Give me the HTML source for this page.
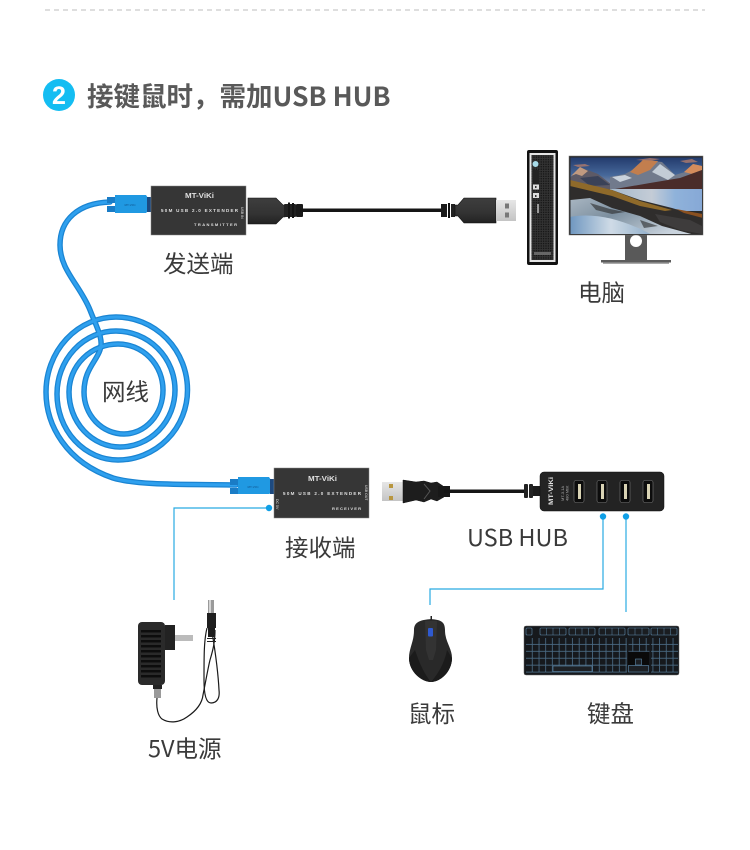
<!DOCTYPE html>
<html lang="zh"><head><meta charset="utf-8"><title>接键鼠时，需加USB HUB</title>
<style>html,body{margin:0;padding:0;background:#fff;width:750px;height:850px;overflow:hidden}svg{display:block}
.l{font-family:"Noto Sans CJK SC","Liberation Sans",sans-serif;font-size:23.500px;fill:#3a3a3a;font-weight:400}
.t{font-family:"Liberation Sans",sans-serif;fill:#e0e0e0;font-weight:700}</style></head><body>
<svg xmlns="http://www.w3.org/2000/svg" width="750" height="850" viewBox="0 0 750 850">
<defs>
<linearGradient id="sky" x1="0" y1="0" x2="0" y2="1"><stop offset="0" stop-color="#223a6c"/><stop offset=".55" stop-color="#46689a"/><stop offset="1" stop-color="#a7a2a6"/></linearGradient>
<linearGradient id="lake" x1="0" y1="0" x2="1" y2="0"><stop offset="0" stop-color="#a4b8cb"/><stop offset=".45" stop-color="#c4ccd6"/><stop offset=".7" stop-color="#8fb2da"/><stop offset="1" stop-color="#86a8d6"/></linearGradient>
<linearGradient id="rock" x1="0" y1="0" x2="1" y2=".6"><stop offset="0" stop-color="#a9b6c2"/><stop offset=".45" stop-color="#7c8f9f"/><stop offset="1" stop-color="#c9d3dd"/></linearGradient>
<linearGradient id="water" x1="0" y1="0" x2="1" y2="0"><stop offset="0" stop-color="#6f97c0"/><stop offset=".5" stop-color="#cfdbe6"/><stop offset="1" stop-color="#8fadc9"/></linearGradient>
<linearGradient id="plug" x1="0" y1="0" x2="0" y2="1"><stop offset="0" stop-color="#3e3e3e"/><stop offset=".6" stop-color="#333"/><stop offset="1" stop-color="#222"/></linearGradient>
<linearGradient id="metal" x1="0" y1="0" x2="0" y2="1"><stop offset="0" stop-color="#e6e6e6"/><stop offset="1" stop-color="#c4c4c4"/></linearGradient>
<linearGradient id="bodyg" x1="0" y1="0" x2="1" y2="0"><stop offset="0" stop-color="#333"/><stop offset="1" stop-color="#222"/></linearGradient>
<pattern id="key" width="6.700" height="6.900" patternUnits="userSpaceOnUse" x="526" y="638"><rect width="6.700" height="6.900" fill="#16191d"/><path d="M6.300 0V6.500H0" fill="none" stroke="#5f8bad" stroke-width=".6"/></pattern>
<pattern id="mesh" width="2.400" height="2.400" patternUnits="userSpaceOnUse"><rect width="2.400" height="2.400" fill="#333"/><circle cx="1.200" cy="1.200" r=".7" fill="#111"/></pattern>
<clipPath id="scr"><rect x="570.500" y="157.500" width="131.500" height="76.500"/></clipPath>
</defs>

<line x1="45" y1="10" x2="705" y2="10" stroke="#bdbdbd" stroke-width="1" stroke-dasharray="5 4"/>

<circle cx="59" cy="95" r="16" fill="#14bdf2"/>
<text x="59" y="104" text-anchor="middle" style="font-family:'Liberation Sans',sans-serif;font-size:25px;font-weight:700" fill="#fff">2</text>
<text x="87" y="106" style="font-family:'Noto Sans CJK SC','Liberation Sans',sans-serif;font-size:26.500px;font-weight:700" fill="#595959">接键鼠时，需加USB HUB</text>

<!-- cable -->
<g fill="none" stroke-linecap="round" stroke-linejoin="round">
<path d="M110 202C78 203 60 220 60 245C60 270 80 285 90 310C97 328 104 340 100 350C96 362 84 370 84 392A40 42 0 0 0 124 434A39 44 0 0 0 163 390A45 46 0 0 0 118 344A49 48 0 0 0 69 392A51 55 0 0 0 120 447A55 57 0 0 0 175 390A59 59 0 0 0 116 331A59 63 0 0 0 57 394A61 66 0 0 0 118 460A69.500 70 0 0 0 187.500 390A71.500 73 0 0 0 116 317A70 75 0 0 0 46 392C46 425 66 462 113 478C140 486 190 484 236 485" stroke="#1a84d2" stroke-width="5.500"/>
<path d="M110 202C78 203 60 220 60 245C60 270 80 285 90 310C97 328 104 340 100 350C96 362 84 370 84 392A40 42 0 0 0 124 434A39 44 0 0 0 163 390A45 46 0 0 0 118 344A49 48 0 0 0 69 392A51 55 0 0 0 120 447A55 57 0 0 0 175 390A59 59 0 0 0 116 331A59 63 0 0 0 57 394A61 66 0 0 0 118 460A69.500 70 0 0 0 187.500 390A71.500 73 0 0 0 116 317A70 75 0 0 0 46 392C46 425 66 462 113 478C140 486 190 484 236 485" stroke="#2fa0ee" stroke-width="3"/>
</g>

<!-- transmitter blue plug -->
<rect x="107" y="197" width="9" height="6" fill="#1a7cc6"/><rect x="107" y="206" width="9" height="6" fill="#1a7cc6"/>
<path d="M115 195H146L148 198V211L146 213H115Z" fill="#2099e2"/>
<rect x="147" y="197" width="4" height="15" fill="#1d4a80"/>
<text x="130" y="206" text-anchor="middle" class="t" style="font-size:3px;fill:#156aa8">MT-ViKi</text>
<!-- transmitter -->
<rect x="151" y="186" width="95" height="49" fill="#363636" stroke="#888" stroke-width=".5"/>
<text x="185" y="198" class="t" style="font-size:7px" textLength="29" lengthAdjust="spacingAndGlyphs">MT-ViKi</text>
<text x="161" y="212" class="t" style="font-size:4.500px" textLength="77" lengthAdjust="spacing">50M USB 2.0 EXTENDER</text>
<text x="194" y="226" class="t" style="font-size:4px" textLength="43" lengthAdjust="spacing">TRANSMITTER</text>
<text transform="translate(241 207) rotate(90)" class="t" style="font-size:3.500px;font-weight:400">USB IN</text>
<!-- left usb plug -->
<path d="M248 198H276L283 205H285V217H283L276 224H248Z" fill="url(#plug)" stroke="#111" stroke-width=".6"/>
<rect x="284" y="204" width="12" height="13" rx="1" fill="#222"/>
<rect x="288" y="202.500" width="2" height="16" fill="#151515"/><rect x="292" y="203" width="2" height="15" fill="#151515"/><rect x="296" y="204" width="7" height="13" fill="#1a1a1a" rx="1"/>
<rect x="300" y="208.500" width="142" height="3.500" fill="#151515"/>
<rect x="441" y="204" width="6" height="13" fill="#1a1a1a"/><rect x="448" y="203" width="2" height="15" fill="#111"/><rect x="451" y="204" width="4" height="13" fill="#222"/>
<path d="M455 205H458L464 198H496V223H464L458 216H455Z" fill="url(#plug)" stroke="#111" stroke-width=".6"/>
<rect x="496" y="200" width="20" height="21" fill="url(#metal)"/>
<rect x="505" y="203.500" width="4" height="5" fill="#777"/><rect x="505" y="212.500" width="4" height="5" fill="#777"/>

<!-- PC -->
<rect x="527" y="150" width="31" height="115" rx="2" fill="#111"/>
<rect x="529.500" y="153" width="26" height="109" fill="#e4e4e4"/>
<rect x="531.500" y="155" width="22" height="105" fill="url(#mesh)"/>
<circle cx="535.500" cy="164" r="3" fill="#a8dbe8"/>
<rect x="533" y="170" width="6" height="14" fill="#222"/>
<rect x="533" y="184.500" width="6" height="5" fill="#ddd"/><rect x="533" y="193" width="6" height="5" fill="#ddd"/>
<rect x="535" y="186" width="1.500" height="2" fill="#333"/><rect x="535" y="195" width="1.500" height="2" fill="#333"/>
<rect x="537" y="204" width="2" height="9" fill="#999"/>
<rect x="534" y="252" width="17" height="3" fill="#666"/>

<!-- monitor -->
<rect x="625" y="235" width="22" height="26" fill="#595959"/>
<circle cx="636" cy="241" r="6" fill="#fff"/>
<rect x="601" y="260" width="70" height="2.500" fill="#5c5c5c"/><rect x="603" y="262.500" width="66" height="1.500" fill="#aaa"/>
<rect x="569" y="156" width="134" height="79" fill="#2a2a2a" stroke="#777" stroke-width=".5"/>
<g clip-path="url(#scr)">
<rect x="570" y="157" width="133" height="33" fill="url(#sky)"/>
<path d="M636 160L650 158L660 159L650 161Z M573 165L585 164L590 166L578 167Z M680 161L692 159L698 162L686 163Z" fill="#b07a6c" opacity=".8"/>
<path d="M570 178L580 167L598 174L612 185L613 190H570Z" fill="#5d5a66"/>
<path d="M571 176L580 167L588 171L582 176L576 174Z" fill="#c09a80"/>
<path d="M580 178L598 176L610 185L590 186Z" fill="#3a4258"/>
<path d="M610 177L625 174L636 168L643 160L662 162L675 175L685 172L693 164L702 166V190H610Z" fill="#717a8c"/>
<path d="M630 172L643 160L658 161L650 170L638 175Z" fill="#c27e4e"/>
<path d="M684 172L693 164L702 166V170L692 174Z" fill="#d58c5c"/>
<path d="M652 172L660 164L675 175L668 180Z" fill="#c3ccd6"/>
<path d="M612 177L625 175L632 178L620 182Z" fill="#c9d2dc"/>
<path d="M615 189L650 183L680 178L702 170V190Z" fill="#4a2c2a"/>
<rect x="610" y="189" width="93" height="22" fill="url(#lake)"/>
<path d="M570 182L612 190L640 200L672 208L702 217V235H570Z" fill="#2f2d2c"/>
<path d="M570 180L612 190L640 201L672 210L665 211L640 206L612 196L570 186Z" fill="#8f6a2a"/>
<path d="M676 209L703 214V218L684 213Z" fill="#8a5020"/>
<path d="M570 200L590 198L612 208L640 216L662 226L695 235H570Z" fill="url(#rock)"/>
<path d="M570 217C595 212 625 220 652 235H570Z" fill="url(#water)"/>
<path d="M590 203L610 209L625 212L612 214L596 210Z M640 220L658 226L644 228Z" fill="#2a2a2a" opacity=".6"/>
<path d="M655 214L690 220L702 226V234L680 230L660 222Z" fill="#3e3c3c"/>
</g>

<!-- receiver blue plug -->
<rect x="230" y="479" width="9" height="6" fill="#1a7cc6"/><rect x="230" y="488" width="9" height="6" fill="#1a7cc6"/>
<path d="M238 477H269L271 480V493L269 494H238Z" fill="#2099e2"/>
<rect x="270" y="479" width="4" height="15" fill="#1d4a80"/>
<text x="253" y="488" text-anchor="middle" class="t" style="font-size:3px;fill:#156aa8">MT-ViKi</text>
<!-- receiver -->
<rect x="274" y="468" width="95" height="50" fill="#363636" stroke="#888" stroke-width=".5"/>
<text x="308" y="481" class="t" style="font-size:7px" textLength="29" lengthAdjust="spacingAndGlyphs">MT-ViKi</text>
<text x="283" y="495" class="t" style="font-size:4.500px" textLength="78" lengthAdjust="spacing">50M USB 2.0 EXTENDER</text>
<text x="332" y="510" class="t" style="font-size:4px" textLength="29" lengthAdjust="spacing">RECEIVER</text>
<text transform="translate(365 485) rotate(90)" class="t" style="font-size:3.500px;font-weight:400">USB OUT</text>
<text transform="translate(276 499) rotate(90)" class="t" style="font-size:3.500px;font-weight:400">DC 5V</text>

<!-- thin lines -->
<g fill="none" stroke="#29abe2" stroke-width="1.200">
<path d="M269 508H174V600"/><path d="M603 517V589H430V605"/><path d="M626 517V612"/>
</g>
<g fill="#0f9fe6"><circle cx="269" cy="508" r="3.200"/><circle cx="603" cy="516.500" r="3.200"/><circle cx="626" cy="516.500" r="3.200"/></g>

<!-- hub usb -->
<rect x="382" y="482" width="21" height="19" fill="url(#metal)"/>
<rect x="389" y="484" width="4" height="4" fill="#b8963f"/><rect x="389" y="496" width="4" height="4" fill="#b8963f"/>
<path d="M403 480L416 482L424 481L431 483L437 482L443 486L444 497L437 501L431 499L424 502L416 500L403 503Z" fill="#1d1d1d" stroke="#111" stroke-width=".5"/>
<path d="M424 484L430 491L424 499" fill="none" stroke="#555" stroke-width="1"/>
<rect x="438" y="486" width="12" height="11" fill="#181818"/>
<rect x="444" y="489.500" width="82" height="3.500" fill="#151515"/>
<rect x="524" y="484" width="4" height="14" rx="1" fill="#222"/><rect x="529" y="484" width="4" height="14" rx="1" fill="#222"/><rect x="533" y="486" width="8" height="10" fill="#1b1b1b"/>
<!-- hub -->
<rect x="540" y="472" width="124" height="39" rx="4" fill="#232323" stroke="#111" stroke-width=".5"/>
<text transform="translate(553 505) rotate(-90)" class="t" style="font-size:6px" textLength="28" lengthAdjust="spacingAndGlyphs">MT-ViKi</text>
<text transform="translate(564 501) rotate(-90)" class="t" style="font-size:4px;font-weight:400;fill:#aaa">MT-3.1A</text>
<text transform="translate(568.500 501) rotate(-90)" class="t" style="font-size:4px;font-weight:400;fill:#aaa">480 Mbit</text>
<g>
<rect x="574" y="480.500" width="10" height="22" rx="2" fill="#0c0c0c" stroke="#777" stroke-width=".6"/><rect x="578" y="484" width="3" height="15" fill="#d9d3b4"/>
<rect x="597" y="480.500" width="10" height="22" rx="2" fill="#0c0c0c" stroke="#777" stroke-width=".6"/><rect x="601" y="484" width="3" height="15" fill="#d9d3b4"/>
<rect x="620" y="480.500" width="10" height="22" rx="2" fill="#0c0c0c" stroke="#777" stroke-width=".6"/><rect x="624" y="484" width="3" height="15" fill="#d9d3b4"/>
<rect x="643" y="480.500" width="10" height="22" rx="2" fill="#0c0c0c" stroke="#777" stroke-width=".6"/><rect x="647" y="484" width="3" height="15" fill="#d9d3b4"/>
</g>

<!-- adapter -->
<g fill="none" stroke="#1a1a1a" stroke-width="1.200">
<path d="M157 698C156 708 158 716 162 719C170 724 180 722 187 717C196 711 202 704 203 695C206 680 208 668 210 660C213 650 215 642 215 630"/>
<path d="M207 628C204 640 204 655 204 680C204 695 206 703 211 703C217 703 220 698 219 690C218 670 215 650 212 632"/>
</g>
<rect x="208" y="600" width="6" height="14" fill="#9a9a9a"/><rect x="209" y="600" width="2" height="14" fill="#d5d5d5"/>
<rect x="207" y="613" width="9" height="15" fill="#1f1f1f"/><rect x="208" y="628" width="7" height="9" fill="#1c1c1c"/>
<rect x="207" y="638" width="9" height="1" fill="#222"/><rect x="207" y="641" width="9" height="1" fill="#222"/>
<rect x="175" y="635" width="18" height="6" fill="#bbb"/>
<rect x="165" y="625" width="10" height="25" fill="#222"/>
<rect x="153" y="685" width="9" height="4" fill="#222"/><rect x="154" y="689" width="7" height="9" fill="#9a9a9a"/>
<rect x="138" y="622" width="27" height="63" rx="4" fill="#2a2a2a"/>
<g fill="#0d0d0d"><rect x="141" y="630" width="20" height="2.500"/><rect x="141" y="635" width="20" height="2.500"/><rect x="141" y="640" width="20" height="2.500"/><rect x="141" y="645" width="20" height="2.500"/><rect x="141" y="650" width="20" height="2.500"/><rect x="141" y="655" width="20" height="2.500"/><rect x="141" y="660" width="20" height="2.500"/><rect x="141" y="665" width="20" height="2.500"/><rect x="141" y="670" width="20" height="2.500"/><rect x="141" y="675" width="20" height="2.500"/></g>

<!-- mouse -->
<path d="M431 619C440 620 445 621 445 630C445 642 452 648 452 658C452 672 440 682 431 682C422 682 409 672 409 658C409 648 414 642 414 630C414 621 422 620 431 619Z" fill="#292929"/>
<path d="M425 621H437L436 650L433 660H429L426 650Z" fill="#333"/>
<path d="M415 650C420 665 425 675 431 682C422 682 409 672 409 658Z M447 650C444 665 437 675 431 682C440 682 452 672 452 658Z" fill="#1b1b1b"/>
<rect x="428" y="628" width="5" height="8.500" rx="1" fill="#2f5ad0"/>
<rect x="430.500" y="616" width="1.500" height="4" fill="#222"/>

<!-- keyboard -->
<rect x="524" y="626" width="155" height="49" rx="2" fill="#16191d" stroke="#666" stroke-width=".5"/>
<g fill="url(#key)">
<rect x="526" y="638" width="101" height="34.500"/>
<rect x="628.500" y="638" width="21" height="13.800"/>
<rect x="651" y="638" width="27" height="34.500"/>
</g>
<rect x="553" y="666" width="39" height="5.500" fill="#1d2024" stroke="#5f8bad" stroke-width=".6"/>
<rect x="628" y="652" width="21" height="13" fill="#0a0a0a"/>
<rect x="635.500" y="659" width="6" height="6" fill="#1d2024" stroke="#5f8bad" stroke-width=".6"/>
<rect x="628.500" y="665.500" width="20" height="6.500" fill="#1d2024" stroke="#5f8bad" stroke-width=".6"/>
<g fill="#1a1d21" stroke="#5f8bad" stroke-width=".6">
<rect x="526" y="628" width="6" height="7" rx="1"/>
<rect x="540" y="628" width="26" height="7" rx="1"/><rect x="569" y="628" width="26" height="7" rx="1"/><rect x="599" y="628" width="26" height="7" rx="1"/><rect x="628" y="628" width="21" height="7" rx="1"/><rect x="651" y="628" width="26" height="7" rx="1"/>
</g>
<g stroke="#5f8bad" stroke-width=".5"><path d="M546.500 628V635M553 628V635M559.500 628V635M575.500 628V635M582 628V635M588.500 628V635M605.500 628V635M612 628V635M618.500 628V635M635 628V635M642 628V635M657.500 628V635M664 628V635M670.500 628V635"/></g>

<!-- labels -->
<text class="l" x="163" y="272">发送端</text>
<text class="l" x="578" y="301">电脑</text>
<text class="l" x="102" y="400">网线</text>
<text class="l" x="285" y="556">接收端</text>
<text class="l" x="467" y="546">USB HUB</text>
<text class="l" x="148" y="757">5V电源</text>
<text class="l" x="408" y="722">鼠标</text>
<text class="l" x="587" y="722">键盘</text>
</svg>
</body></html>
